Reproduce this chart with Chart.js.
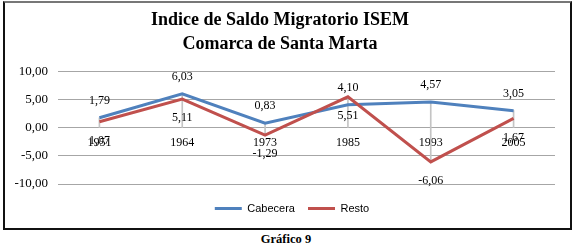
<!DOCTYPE html>
<html><head><meta charset="utf-8">
<script src="https://cdn.jsdelivr.net/npm/chart.js@4/dist/chart.umd.min.js"></script>
<style>
html,body{margin:0;padding:0;background:#fff;}
#wrap{position:absolute;left:0;top:0;width:572px;height:246px;}
#box{position:absolute;left:3px;top:1px;width:565px;height:225px;border:2px solid #111;border-top-color:#777;}
#cv{position:absolute;left:0;top:0;}
#foot{position:absolute;left:0;top:232px;width:572px;text-align:center;font:bold 12.5px "Liberation Serif",serif;color:#000;}
</style></head><body>
<div id="wrap">
<div id="box"></div>
<canvas id="cv" width="572" height="228"></canvas>
<div id="foot">Gráfico 9</div>
</div>
<script>
const categories = ["1951","1964","1973","1985","1993","2005"];
const cabecera = [1.79, 6.03, 0.83, 4.10, 4.57, 3.05];
const resto = [1.07, 5.11, -1.29, 5.51, -6.06, 1.67];
const yTicks = [-10, -5, 0, 5, 10];
const titleLines = ["Indice de Saldo Migratorio ISEM", "Comarca de Santa Marta"];

const fmt = v => v.toFixed(2).replace('.', ',');
const dropLines = categories.map((c, i) => [Math.min(0, cabecera[i], resto[i]), Math.max(0, cabecera[i], resto[i])]);

const labelPlugin = {
  id: 'dl',
  afterLayout(chart) {
    if (chart.legend) { chart.legend.left += 12; chart.legend.right += 12; }
  },
  afterDatasetsDraw(chart) {
    const ctx = chart.ctx;
    ctx.save();
    ctx.font = '12px "Liberation Serif", serif';
    ctx.fillStyle = '#000';
    ctx.textAlign = 'center';
    ctx.textBaseline = 'middle';
    [1, 2].forEach((di) => {
      const meta = chart.getDatasetMeta(di);
      const ds = chart.data.datasets[di];
      meta.data.forEach((pt, i) => {
        const off = di === 1 ? -17 : 19;
        ctx.fillText(fmt(ds.data[i]), pt.x, pt.y + off);
      });
    });
    ctx.restore();
  }
};

new Chart(document.getElementById('cv'), {
  data: {
    labels: categories,
    datasets: [
      { type: 'bar', label: 'drop', data: dropLines, backgroundColor: '#c4c4c4', barThickness: 1, order: 3 },
      { type: 'line', label: 'Cabecera', data: cabecera, borderColor: '#4F81BD', backgroundColor: '#4F81BD', borderWidth: 3, pointRadius: 0, tension: 0, order: 2 },
      { type: 'line', label: 'Resto', data: resto, borderColor: '#C0504D', backgroundColor: '#C0504D', borderWidth: 3, pointRadius: 0, tension: 0, order: 1 }
    ]
  },
  options: {
    responsive: false,
    animation: false,
    layout: { padding: { left: 5, right: 17, top: 0, bottom: 4 } },
    plugins: {
      title: { display: true, text: titleLines, font: { family: '"Liberation Serif", serif', size: 18, weight: 'bold', lineHeight: 1.35 }, color: '#000', padding: { top: 8, bottom: 15 } },
      legend: {
        position: 'bottom',
        title: { display: true, text: ' ', font: { size: 4, lineHeight: 1 }, padding: 1 },
        labels: { filter: it => it.text !== 'drop', sort: (a, b) => a.datasetIndex - b.datasetIndex, usePointStyle: true, pointStyle: 'line', pointStyleWidth: 27, font: { family: '"Liberation Sans", Arial, sans-serif', size: 11 }, color: '#000', padding: 13 }
      },
      tooltip: { enabled: false }
    },
    scales: {
      x: {
        position: { y: 0 },
        offset: true,
        grid: { display: false, drawTicks: false },
        border: { display: false },
        ticks: { font: { family: '"Liberation Serif", serif', size: 12 }, color: '#000', padding: 8, maxRotation: 0 }
      },
      y: {
        min: -10, max: 10,
        afterFit: s => { s.width = 53; },
        afterBuildTicks: s => { s.ticks = yTicks.map(v => ({ value: v })); },
        grid: { color: '#a6a6a6', drawTicks: false, lineWidth: 1 },
        border: { display: false },
        ticks: { font: { family: '"Liberation Serif", serif', size: 13 }, color: '#000', padding: 10, callback: v => fmt(v) }
      }
    }
  },
  plugins: [labelPlugin]
});
</script>
</body></html>
